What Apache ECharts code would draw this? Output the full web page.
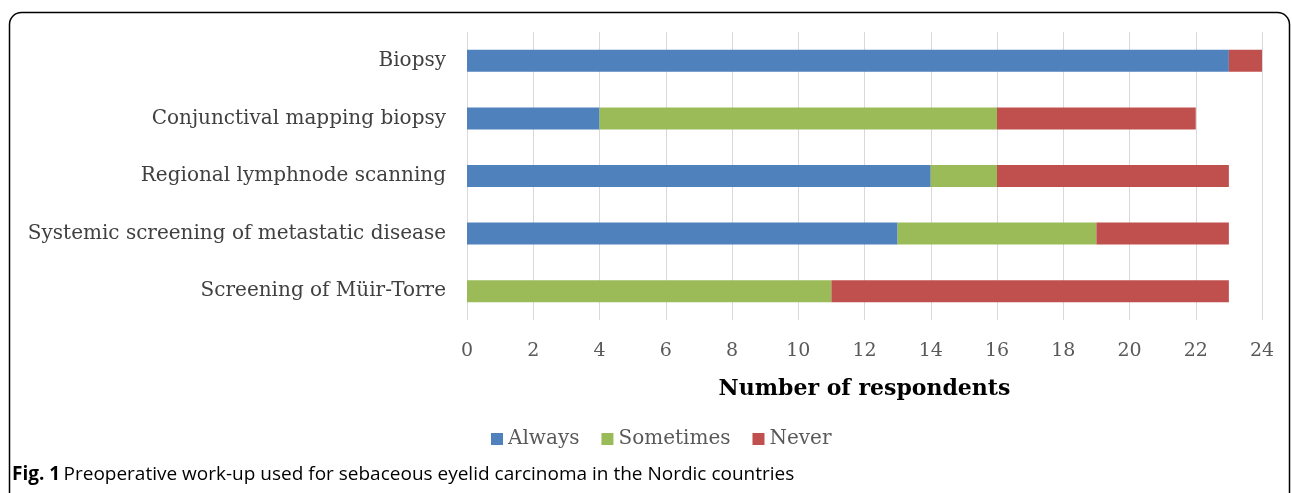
<!DOCTYPE html>
<html><head><meta charset="utf-8">
<script src="https://cdn.jsdelivr.net/npm/echarts@6/dist/echarts.min.js"></script>
<style>html,body{margin:0;padding:0;background:#fff}#c{width:1292px;height:493px}</style>
</head><body><div id="c"></div>
<script>
var categories = ["Biopsy","Conjunctival mapping biopsy","Regional lymphnode scanning","Systemic screening of metastatic disease","Screening of Müir-Torre"];
var always = [23, 4, 14, 13, 0];
var sometimes = [0, 12, 2, 6, 11];
var never = [1, 6, 7, 4, 12];
var seriesNames = ["Always","Sometimes","Never"];
var colors = ["#4F81BD","#9BBB59","#C0504D"];
var serif = "DejaVu Serif";
var chart = echarts.init(document.getElementById('c'));
var vals = [always, sometimes, never];
chart.setOption({
  animation: false,
  grid: {left: 467, right: 30, top: 32, height: 288},
  legend: {
    left: 486, top: 424, itemWidth: 12, itemHeight: 12, itemGap: 22,
    icon: 'rect',
    textStyle: {fontFamily: serif, fontSize: 20, color: '#595959'},
    data: seriesNames
  },
  xAxis: {
    type: 'value', min: 0, max: 24, interval: 2,
    name: 'Number of respondents', nameLocation: 'middle', nameGap: 58,
    nameTextStyle: {fontFamily: serif, fontSize: 22, fontWeight: 'bold', color: '#000'},
    axisLine: {show: false}, axisTick: {show: false},
    axisLabel: {fontFamily: serif, fontSize: 19, color: '#595959', margin: 22},
    splitLine: {lineStyle: {color: '#d9d9d9', width: 1}}
  },
  yAxis: {
    type: 'category', inverse: true, data: categories,
    axisLine: {show: false}, axisTick: {show: false},
    axisLabel: {fontFamily: serif, fontSize: 20, color: '#404040', margin: 21}
  },
  series: vals.map(function(v, i){
    return {name: seriesNames[i], type: 'bar', stack: 'total', data: v,
      barWidth: 22, itemStyle: {color: colors[i]}};
  }),
  graphic: [
    {type: 'rect', shape: {x: 9.5, y: 12.5, width: 1280, height: 520, r: 12},
     style: {fill: 'none', stroke: '#000', lineWidth: 1.5}, silent: true},
    {type: 'text', left: 12, top: 465,
     style: {rich: {b: {fontFamily: 'Open Sans', fontWeight: 'bold', fontSize: 19, fill: '#000'},
                    n: {fontFamily: 'Open Sans', fontSize: 19, fill: '#000'}},
             text: '{b|Fig. 1} {n|Preoperative work-up used for sebaceous eyelid carcinoma in the Nordic countries}'}}
  ]
});
</script></body></html>
